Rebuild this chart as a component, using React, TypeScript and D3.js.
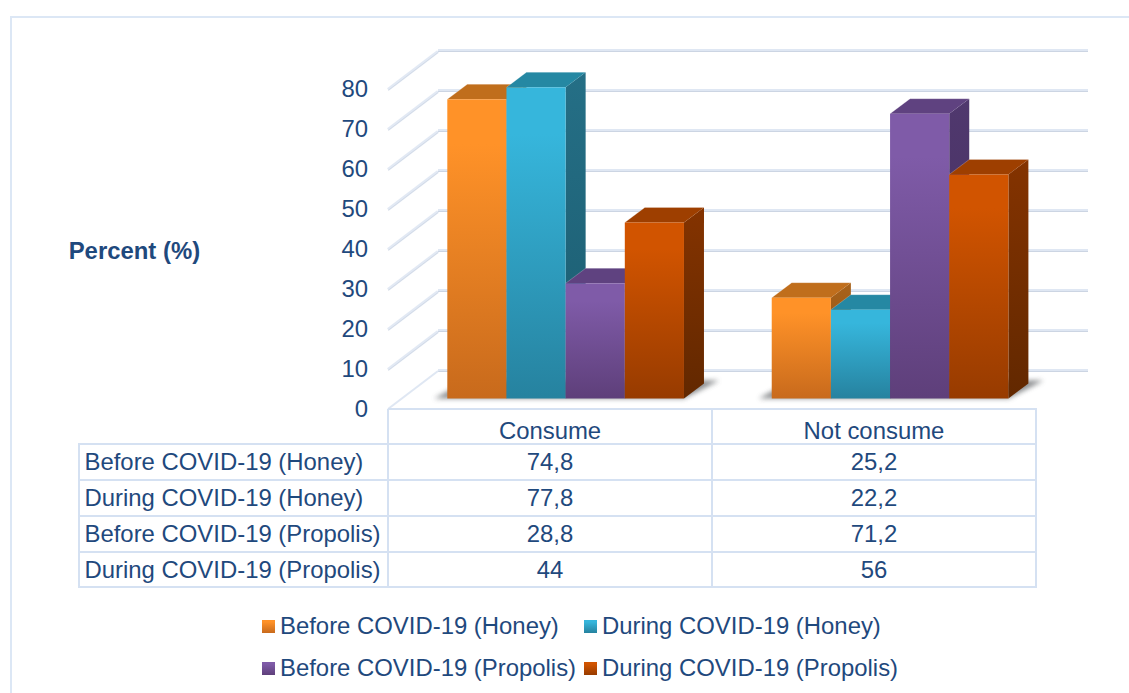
import React from "react";
import * as d3 from "d3";

// Survey shares by consumption group
const categories = ["Consume", "Not consume"];
const seriesNames = [
  "Before COVID-19 (Honey)",
  "During COVID-19 (Honey)",
  "Before COVID-19 (Propolis)",
  "During COVID-19 (Propolis)",
];
const beforeHoney = [74.8, 25.2];
const duringHoney = [77.8, 22.2];
const beforePropolis = [28.8, 71.2];
const duringPropolis = [44, 56];
const seriesValues = [beforeHoney, duringHoney, beforePropolis, duringPropolis];
const yTicks = [0, 10, 20, 30, 40, 50, 60, 70, 80];

const palettes = [
  { hi: "#ff9228", lo: "#c86a1c", top: "#c06e1c", sideHi: "#a8621a", sideLo: "#8a4f14" },
  { hi: "#36b6dc", lo: "#26829f", top: "#2588a3", sideHi: "#256f86", sideLo: "#1b5c70" },
  { hi: "#7f5ba8", lo: "#5e3f7a", top: "#5f4280", sideHi: "#50386e", sideLo: "#432e5e" },
  { hi: "#d15400", lo: "#973b00", top: "#9e3f00", sideHi: "#843300", sideLo: "#622800" },
];

const INK = "#1f497d";
const RULE = "#d5e1f2";
const FONT = "'Liberation Sans', Arial, sans-serif";
const TEXT_SIZE = 23.9;

// Oblique projection used for the 3D bars and for the chart walls
const barDepth = { dx: 20, dy: -15 };
const wallDepth = { dx: 50, dy: -38 };

const baseY = 398.5;
const wallLeft = 388;
const wallRight = 1038;
const tableLeft = 79;
const tableMid = 712;
const tableRight = 1036;
const tableRows = [409, 444, 480, 516, 552, 587];
const columnCentres = [550, 874];

const y = d3.scaleLinear().domain([0, 80]).range([baseY, baseY - 320]);
const xGroup = d3.scaleBand<string>().domain(categories).range([447.3, 1008.4]).paddingInner(0.2705);
const xBar = d3.scaleBand<string>().domain(seriesNames).range([0, xGroup.bandwidth()]);
const pts = (list: [number, number][]) => list.map((p) => p.join(",")).join(" ");
const tableValue = (v: number) => String(v).replace(".", ",");

function Bar({ x, w, value, s }: { x: number; w: number; value: number; s: number }) {
  const t = y(value);
  const { dx, dy } = barDepth;
  const p = palettes[s];
  return (
    <g>
      <polygon
        points={pts([[x + w, t], [x + w + dx, t + dy], [x + w + dx, baseY + dy], [x + w, baseY]])}
        fill={`url(#side${s})`}
      />
      <polygon
        points={pts([[x, t], [x + dx, t + dy], [x + w + dx, t + dy], [x + w, t]])}
        fill={p.top}
      />
      <polyline
        points={pts([[x, t], [x + dx, t + dy], [x + w + dx, t + dy]])}
        fill="none"
        stroke="#ffffff"
        strokeOpacity={0.22}
        strokeWidth={1}
      />
      <rect x={x} y={t} width={w} height={baseY - t} fill={`url(#front${s})`} />
    </g>
  );
}

export default function App() {
  // The back wall sits up and to the right of the front plane
  const backY = (v: number) => y(v) + 11 + wallDepth.dy;
  return (
    <svg
      width={1129}
      height={693}
      viewBox="0 0 1129 693"
      style={{ position: "absolute", left: 0, top: 0, display: "block", background: "#fff" }}
      fontFamily={FONT}
      fill={INK}
    >
      <defs>
        {palettes.map((p, i) => (
          <React.Fragment key={i}>
            <linearGradient id={`front${i}`} x1="0" y1="0" x2="0" y2="1">
              <stop offset="0.15" stopColor={p.hi} />
              <stop offset="1" stopColor={p.lo} />
            </linearGradient>
            <linearGradient id={`side${i}`} x1="0" y1="0" x2="0" y2="1">
              <stop offset="0" stopColor={p.sideHi} />
              <stop offset="1" stopColor={p.sideLo} />
            </linearGradient>
          </React.Fragment>
        ))}
        <filter id="soft" x="-20%" y="-60%" width="140%" height="220%">
          <feGaussianBlur stdDeviation="2.4" />
        </filter>
      </defs>

      {/* Outer frame, open at the right and bottom */}
      <path d="M11 693V17H1129" fill="none" stroke="#dce7f5" strokeWidth={2} />

      {/* Back wall gridlines and their returns down the side wall */}
      {yTicks.map((t) => {
        const by = backY(t);
        return (
          <g key={t}>
            <line x1={wallLeft + wallDepth.dx} x2={wallRight + wallDepth.dx} y1={by - 1} y2={by - 1} stroke="#dfe7f3" strokeWidth={3} />
            <line x1={wallLeft + wallDepth.dx} x2={wallRight + wallDepth.dx} y1={by} y2={by} stroke="#bcc6d5" strokeWidth={1} strokeOpacity={0.55} />
            {t > 0 && (
              <>
                <line x1={wallLeft} y1={by + 38} x2={wallLeft + wallDepth.dx} y2={by} stroke="#e2e9f4" strokeWidth={3} />
                <line x1={wallLeft} y1={by + 39} x2={wallLeft + wallDepth.dx} y2={by + 1} stroke="#bcc6d5" strokeWidth={1} strokeOpacity={0.4} />
              </>
            )}
          </g>
        );
      })}
      <line x1={wallLeft} y1={409} x2={wallLeft + wallDepth.dx} y2={371} stroke="#dfe7f3" strokeWidth={2} />

      {/* Value axis */}
      {yTicks.map((t) => (
        <text key={t} x={368} y={y(t) + 18.7} textAnchor="end" fontSize={TEXT_SIZE}>
          {t}
        </text>
      ))}
      <text x={68.7} y={259.4} fontSize={TEXT_SIZE} fontWeight="bold">
        Percent (%)
      </text>

      {/* Floor shadows followed by the bars */}
      {categories.map((c, ci) => {
        const gx = xGroup(c) as number;
        const gw = xGroup.bandwidth();
        return (
          <g key={c}>
            <polygon
              points={pts([
                [gx - 13, baseY],
                [gx + gw, baseY],
                [gx + gw + barDepth.dx + 15, baseY - 18],
                [gx + 20, baseY - 18],
              ])}
              fill="#5a5d61"
              opacity={0.7}
              filter="url(#soft)"
            />
            {seriesNames.map((name, s) => (
              <Bar
                key={name}
                x={gx + (xBar(name) as number)}
                w={xBar.bandwidth()}
                value={seriesValues[s][ci]}
                s={s}
              />
            ))}
          </g>
        );
      })}

      {/* Data table */}
      <g stroke={RULE} strokeWidth={2} fill="none">
        <line x1={wallLeft} x2={tableRight + 1} y1={tableRows[0]} y2={tableRows[0]} />
        {tableRows.slice(1).map((r) => (
          <line key={r} x1={tableLeft - 1} x2={tableRight + 1} y1={r} y2={r} />
        ))}
        <line x1={tableLeft} x2={tableLeft} y1={tableRows[1]} y2={tableRows[5]} />
        <line x1={wallLeft} x2={wallLeft} y1={tableRows[0]} y2={tableRows[5]} />
        <line x1={tableMid} x2={tableMid} y1={tableRows[0]} y2={tableRows[5]} />
        <line x1={tableRight} x2={tableRight} y1={tableRows[0]} y2={tableRows[5]} />
      </g>
      <g fontSize={TEXT_SIZE}>
        {categories.map((c, i) => (
          <text key={c} x={columnCentres[i]} y={438.6} textAnchor="middle">
            {c}
          </text>
        ))}
        {seriesNames.map((name, s) => {
          const rowY = (tableRows[s + 1] + tableRows[s + 2]) / 2 + 8;
          return (
            <g key={name}>
              <text x={84.5} y={rowY}>
                {name}
              </text>
              {categories.map((c, i) => (
                <text key={c} x={columnCentres[i]} y={rowY} textAnchor="middle">
                  {tableValue(seriesValues[s][i])}
                </text>
              ))}
            </g>
          );
        })}
      </g>

      {/* Legend, two rows of two */}
      {seriesNames.map((name, s) => {
        const lx = s % 2 === 0 ? 262 : 584;
        const ly = s < 2 ? 620 : 662;
        return (
          <g key={name}>
            <rect x={lx} y={ly} width={13} height={13} fill={`url(#front${s})`} />
            <text x={lx + 18} y={ly + 14.4} fontSize={TEXT_SIZE}>
              {name}
            </text>
          </g>
        );
      })}
    </svg>
  );
}
